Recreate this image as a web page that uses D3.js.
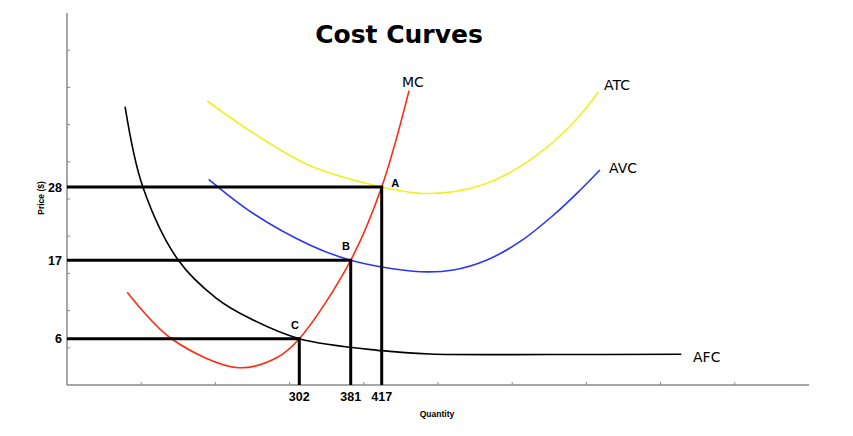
<!DOCTYPE html>
<html>
<head>
<meta charset="utf-8">
<script src="https://cdn.jsdelivr.net/npm/d3@7"></script>
<style>
    body { margin: 0; background: #fff; }
    #space { width: 853px; height: 436px; }
</style>
</head>
<body>
<div id="space"></div>
<script>
// Cost curve data (quantity, price)
var mc_q = [59, 122, 216, 270, 302, 381, 417, 456];
var mc_p = [12.51, 5.96, 1.93, 3.33, 6, 17, 28, 42.45];

var atc_q = [172, 237, 318, 417, 472, 519, 567, 614, 662, 700, 726];
var atc_p = [40.9, 36.1, 31.23, 28, 27.05, 27.29, 28.55, 31.05, 34.8, 38.8, 42.3];

var avc_q = [174, 237, 318, 381, 419, 472, 519, 567, 614, 662, 700, 728];
var avc_p = [29.15, 24.02, 19.31, 17, 16.02, 15.4, 15.64, 17.05, 19.79, 23.8, 27.55, 30.55];

var afc_q = [56, 81, 131, 185, 232, 302, 417, 486, 657, 844];
var afc_p = [40.05, 28.04, 17.04, 11.67, 8.86, 6, 4.32, 3.85, 3.78, 3.81];

// Marked points
var pt_names = ["A", "B", "C"];
var pt_q = [417, 381, 302];
var pt_p = [28, 17, 6];

// Tick labels
var q_labels = ["417", "381", "302"];
var p_labels = ["28", "17", "6"];

var svg, xScale, yScale, xFrame, yFrame;

function init() {
    initSvg();

    //Hand drawn axes: labels are not evenly spaced, so piecewise scales
    xScale = d3.scaleLinear().domain([-26, 302, 381, 417, 1026]).range([67, 299.3, 350.7, 381.7, 809]);
    yScale = d3.scaleLinear().domain([-0.5, 6, 17, 28, 54.1]).range([385, 338.7, 260.3, 187, 13]);

    //Even minor ticks of the frame
    xFrame = d3.scaleLinear().domain([0, 10]).range([67, 809]);
    yFrame = d3.scaleLinear().domain([0, 10]).range([385, 13]);

    drawAxes();
    drawCurve(afc_q, afc_p, "#000000");
    drawCurve(avc_q, avc_p, "#2b35f5");
    drawCurve(atc_q, atc_p, "#f0f028");
    drawCurve(mc_q, mc_p, "#ff2a10");
    drawPoints();
    drawLabels();
}

function initSvg() {
    svg = d3.select("#space").append("svg")
        .attr("xmlns", "http://www.w3.org/2000/svg")
        .attr("width", 853)
        .attr("height", 436);

    svg.append("g").attr("id", "axis");
    svg.append("g").attr("id", "path");
    svg.append("g").attr("id", "dot");
    svg.append("g").attr("id", "text");
}

/************************************************
				Axes
*************************************************/
function drawAxes() {
    var g = svg.select("#axis");

    g.append("line")
        .attr("x1", xFrame(0)).attr("y1", yFrame(10))
        .attr("x2", xFrame(0)).attr("y2", yFrame(0))
        .attr("stroke", "#8a8a8a").attr("stroke-width", 1.5);

    g.append("line")
        .attr("x1", xFrame(0)).attr("y1", yFrame(0))
        .attr("x2", xFrame(10)).attr("y2", yFrame(0))
        .attr("stroke", "#8a8a8a").attr("stroke-width", 1.5);

    var ticks = d3.range(1, 10);

    g.selectAll(".yTick").data(ticks).enter()
        .append("line")
        .attr("class", "yTick")
        .attr("x1", xFrame(0)).attr("x2", xFrame(0) + 3)
        .attr("y1", function (d) { return yFrame(d); })
        .attr("y2", function (d) { return yFrame(d); })
        .attr("stroke", "#8a8a8a").attr("stroke-width", 1);

    g.selectAll(".xTick").data(ticks).enter()
        .append("line")
        .attr("class", "xTick")
        .attr("y1", yFrame(0)).attr("y2", yFrame(0) - 3)
        .attr("x1", function (d) { return xFrame(d); })
        .attr("x2", function (d) { return xFrame(d); })
        .attr("stroke", "#8a8a8a").attr("stroke-width", 1);
}

function drawCurve(qs, ps, color) {
    var pts = qs.map(function (q, i) { return [q, ps[i]]; });

    var line = d3.line()
        .x(function (d) { return xScale(d[0]); })
        .y(function (d) { return yScale(d[1]); })
        .curve(d3.curveCatmullRom.alpha(0.5));

    svg.select("#path").append("path")
        .datum(pts)
        .attr("d", line)
        .attr("fill", "none")
        .attr("stroke", color)
        .attr("stroke-width", 1.6);
}

function drawPoints() {
    var g = svg.select("#dot");

    for (var i = 0; i < pt_names.length; i++) {
        var px = xScale(pt_q[i]), py = yScale(pt_p[i]);

        //Horizontal guide to the price axis
        g.append("line")
            .attr("x1", xFrame(0)).attr("y1", py)
            .attr("x2", px + 1.5).attr("y2", py)
            .attr("stroke", "#000").attr("stroke-width", 3);

        //Vertical guide to the quantity axis
        g.append("line")
            .attr("x1", px).attr("y1", py)
            .attr("x2", px).attr("y2", yFrame(0))
            .attr("stroke", "#000").attr("stroke-width", 3);

        svg.select("#text").append("text")
            .attr("x", xFrame(0) - 5)
            .attr("y", py + 4.5)
            .attr("text-anchor", "end")
            .attr("font-family", "Liberation Sans, Arial, sans-serif")
            .attr("font-weight", "bold")
            .attr("font-size", "12.5")
            .text(p_labels[i]);

        svg.select("#text").append("text")
            .attr("x", px)
            .attr("y", 401)
            .attr("text-anchor", "middle")
            .attr("font-family", "Liberation Sans, Arial, sans-serif")
            .attr("font-weight", "bold")
            .attr("font-size", "12.5")
            .text(q_labels[i]);
    }

    //Point letters
    var offs = [[13.5, 0], [-4.7, -10], [-4.3, -10]];
    for (var j = 0; j < pt_names.length; j++) {
        svg.select("#text").append("text")
            .attr("x", xScale(pt_q[j]) + offs[j][0])
            .attr("y", yScale(pt_p[j]) + offs[j][1])
            .attr("text-anchor", "middle")
            .attr("font-family", "Liberation Sans, Arial, sans-serif")
            .attr("font-weight", "bold")
            .attr("font-size", "11")
            .text(pt_names[j]);
    }
}

function drawLabels() {
    var t = svg.select("#text");

    t.append("text")
        .attr("x", 399).attr("y", 43)
        .attr("text-anchor", "middle")
        .attr("font-family", "DejaVu Sans, sans-serif")
        .attr("font-weight", "bold")
        .attr("font-size", "25")
        .text("Cost Curves");

    var names = [["MC", 402, 86.5], ["ATC", 604, 90], ["AVC", 609, 173], ["AFC", 693, 361.5]];
    for (var i = 0; i < names.length; i++) {
        t.append("text")
            .attr("x", names[i][1]).attr("y", names[i][2])
            .attr("font-family", "DejaVu Sans, sans-serif")
            .attr("font-size", "14")
            .text(names[i][0]);
    }

    t.append("text")
        .attr("transform", "translate(44,198) rotate(-90)")
        .attr("text-anchor", "middle")
        .attr("font-family", "Liberation Sans, Arial, sans-serif")
        .attr("font-weight", "bold")
        .attr("font-size", "8.5")
        .text("Price ($)");

    t.append("text")
        .attr("x", 437).attr("y", 417)
        .attr("text-anchor", "middle")
        .attr("font-family", "Liberation Sans, Arial, sans-serif")
        .attr("font-weight", "bold")
        .attr("font-size", "8.5")
        .text("Quantity");
}

init();
</script>
</body>
</html>
